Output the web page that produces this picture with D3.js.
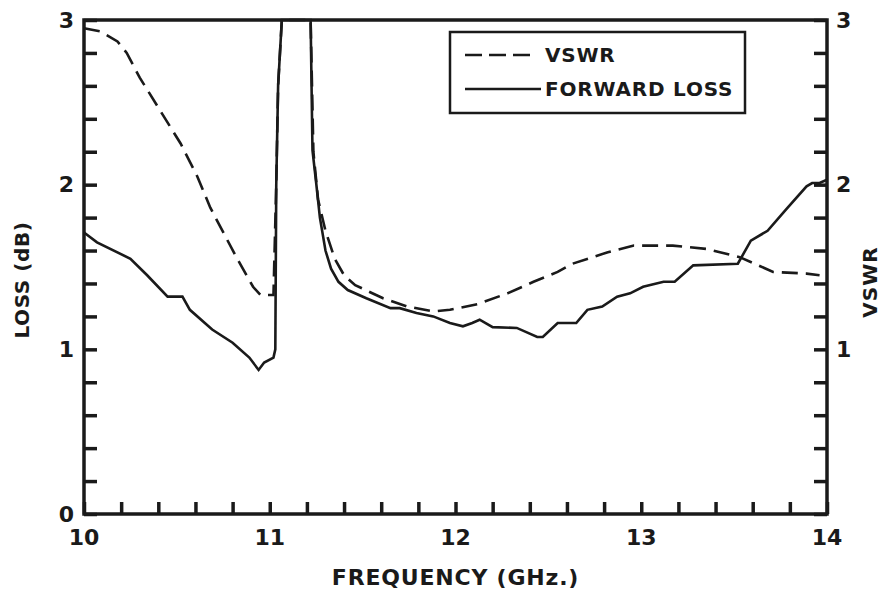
<!DOCTYPE html>
<html><head><meta charset="utf-8">
<script src="https://cdn.jsdelivr.net/npm/d3@7"></script>
<style>
body{margin:0;background:#fff;}
svg{display:block;}
text{font-family:"DejaVu Sans",sans-serif;fill:#1a1a1a;font-weight:bold;}
</style></head>
<body><svg id="c" width="888" height="592"></svg>
<script>
// ---- data ----
const lossFreq = [10.00,10.07,10.25,10.34,10.45,10.53,10.57,10.69,10.80,10.89,10.94,10.97,11.02,11.03,11.035,11.045,11.065,11.22,11.23,11.25,11.27,11.30,11.33,11.37,11.42,11.52,11.65,11.70,11.79,11.88,11.97,12.04,12.09,12.13,12.20,12.33,12.44,12.47,12.55,12.65,12.71,12.79,12.87,12.94,13.01,13.12,13.18,13.28,13.52,13.59,13.68,13.78,13.89,13.92,13.96,14.00];
const lossValues = [1.71,1.65,1.55,1.45,1.32,1.32,1.24,1.12,1.04,0.95,0.875,0.92,0.95,1.00,2.0,2.6,3.0,3.0,2.21,2.01,1.80,1.60,1.49,1.41,1.36,1.31,1.25,1.25,1.22,1.20,1.16,1.14,1.16,1.18,1.135,1.13,1.075,1.075,1.16,1.16,1.24,1.26,1.32,1.34,1.38,1.41,1.41,1.51,1.52,1.66,1.72,1.85,1.99,2.01,2.01,2.03];
const vswrFreq = [10.00,10.09,10.18,10.23,10.30,10.41,10.52,10.61,10.68,10.75,10.82,10.91,10.95,11.02,11.035,11.045,11.065,11.22,11.235,11.26,11.30,11.35,11.40,11.46,11.61,11.74,11.88,11.97,12.12,12.28,12.42,12.55,12.63,12.82,12.96,13.17,13.35,13.53,13.71,13.89,13.96];
const vswrValues = [2.95,2.93,2.87,2.80,2.65,2.45,2.25,2.05,1.86,1.71,1.56,1.38,1.33,1.33,2.0,2.6,3.0,3.0,2.2,1.91,1.72,1.55,1.45,1.39,1.31,1.26,1.23,1.24,1.275,1.34,1.41,1.47,1.52,1.59,1.63,1.63,1.61,1.56,1.47,1.46,1.45];
const xTickLabels = [10,11,12,13,14];
const leftTickLabels = [0,1,2,3];
const rightTickLabels = [1,2,3];
const legendLabels = ["VSWR","FORWARD LOSS"];
const xTitle = "FREQUENCY (GHz.)";
const yTitleLeft = "LOSS (dB)";
const yTitleRight = "VSWR";

// ---- layout ----
const L=84, R=827, T=20, B=514;
const ink = "#1a1a1a";
const svg = d3.select("#c");
const x = d3.scaleLinear().domain([10,14]).range([L,R]);
const y = d3.scaleLinear().domain([0,3]).range([B,T]);

const minorX = d3.range(0,21).map(i=>10+i*0.2);
const minorY = d3.range(0,16).map(i=>i*0.2);

const gx = svg.append("g").attr("transform",`translate(0,${B})`)
  .call(d3.axisTop(x).tickValues(minorX).tickSize(12).tickFormat(""));
const gl = svg.append("g").attr("transform",`translate(${L},0)`)
  .call(d3.axisRight(y).tickValues(minorY).tickSize(13).tickFormat(""));
const gr = svg.append("g").attr("transform",`translate(${R},0)`)
  .call(d3.axisLeft(y).tickValues(minorY).tickSize(13).tickFormat(""));
[gx,gl,gr].forEach(g=>{
  g.select(".domain").remove();
  g.selectAll(".tick line").attr("stroke",ink).attr("stroke-width",3.5);
});

svg.append("rect").attr("x",L).attr("y",T).attr("width",R-L).attr("height",B-T)
  .attr("fill","none").attr("stroke",ink).attr("stroke-width",3.5);

svg.append("g").selectAll("text").data(xTickLabels).join("text")
  .attr("x",d=>x(d)).attr("y",B+23).attr("text-anchor","middle").attr("dominant-baseline","central")
  .attr("font-size",22).text(d=>d);
svg.append("g").selectAll("text").data(leftTickLabels).join("text")
  .attr("x",L-10).attr("y",d=>y(d)).attr("text-anchor","end").attr("dominant-baseline","central")
  .attr("font-size",22).text(d=>d);
svg.append("g").selectAll("text").data(rightTickLabels).join("text")
  .attr("x",R+9).attr("y",d=>y(d)).attr("text-anchor","start").attr("dominant-baseline","central")
  .attr("font-size",22).text(d=>d);

svg.append("text").attr("x",(L+R)/2).attr("y",577).attr("text-anchor","middle")
  .attr("dominant-baseline","central").attr("font-size",22).attr("letter-spacing",0.8).text(xTitle);
svg.append("text").attr("transform","translate(22,280) rotate(-90)").attr("text-anchor","middle")
  .attr("dominant-baseline","central").attr("font-size",20).attr("letter-spacing",0.6).text(yTitleLeft);
svg.append("text").attr("transform","translate(870,282) rotate(-90)").attr("text-anchor","middle")
  .attr("dominant-baseline","central").attr("font-size",20).attr("letter-spacing",1).text(yTitleRight);

const line = d3.line().x(d=>x(d[0])).y(d=>y(d[1]));
const lossData = lossFreq.map((f,i)=>[f,lossValues[i]]);
const vswrData = vswrFreq.map((f,i)=>[f,vswrValues[i]]);
svg.append("path").datum(vswrData).attr("d",line).attr("fill","none")
  .attr("stroke",ink).attr("stroke-width",2.6).attr("stroke-dasharray","16,8");
svg.append("path").datum(lossData).attr("d",line).attr("fill","none")
  .attr("stroke",ink).attr("stroke-width",2.6);

const lg = svg.append("g");
lg.append("rect").attr("x",450).attr("y",32).attr("width",295).attr("height",81)
  .attr("fill","#fff").attr("stroke",ink).attr("stroke-width",2.5);
const legY = [55,89];
lg.append("line").attr("x1",465).attr("x2",530).attr("y1",legY[0]).attr("y2",legY[0])
  .attr("stroke",ink).attr("stroke-width",2.6).attr("stroke-dasharray","17,7");
lg.append("line").attr("x1",465).attr("x2",541).attr("y1",legY[1]).attr("y2",legY[1])
  .attr("stroke",ink).attr("stroke-width",2.6);
lg.selectAll("text.l").data(legendLabels).join("text").attr("class","l")
  .attr("x",545).attr("y",(d,i)=>legY[i]).attr("dominant-baseline","central")
  .attr("font-size",20).attr("letter-spacing",0.8).text(d=>d);
</script></body></html>
